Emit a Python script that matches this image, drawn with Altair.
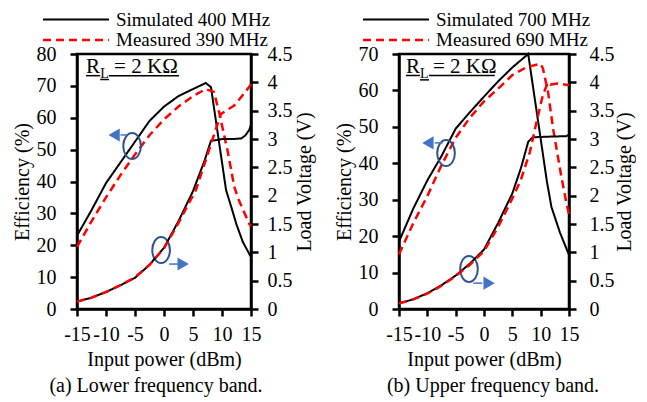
import altair as alt
import pandas as pd

FONT = "Liberation Serif"

# ---------------- data ----------------
X_TICKS = [-15, -10, -5, 0, 5, 10, 15]
V_TICKS = [0, 0.5, 1, 1.5, 2, 2.5, 3, 3.5, 4, 4.5]

# (a) lower band
a_labels = ["Simulated 400 MHz", "Measured 390 MHz"]
a_sim_eff_x = [-15, -12.5, -10, -7.5, -5, -2.5, 0, 2.5, 5, 7.2, 8.1, 9, 10, 10.7, 11.6, 12.5, 13.6, 14.7, 15]
a_sim_eff_y = [23, 31, 39.5, 46, 52.5, 59, 63.5, 66.8, 69, 70.9, 69.6, 58.4, 46, 37.3, 32, 26.5, 21, 17.3, 16.3]
a_meas_eff_x = [-15, -12.5, -10, -7.5, -5, -2.5, 0, 2.5, 5, 7.2, 8.6, 9.5, 11, 12.1, 12.7, 13.8, 14.7, 15]
a_meas_eff_y = [19.5, 27.5, 35, 42, 48.5, 54.5, 59.5, 63.5, 66.8, 69, 68.1, 61.8, 49.3, 38.5, 35, 30.4, 26.7, 26]
a_sim_v_x = [-15, -12.5, -10, -7.5, -5, -2.5, 0, 2.5, 5, 7, 8.1, 9, 10, 12, 13.3, 14, 14.7, 15]
a_sim_v_y = [0.13, 0.2, 0.3, 0.42, 0.55, 0.78, 1.08, 1.55, 2.08, 2.62, 2.97, 2.98, 3.0, 3.0, 3.01, 3.06, 3.16, 3.25]
a_meas_v_x = [-15, -12.5, -10, -7.5, -5, -2.5, 0, 2.5, 5.5, 7.5, 8.6, 9.8, 11, 12.1, 13, 14, 14.7, 15]
a_meas_v_y = [0.13, 0.2, 0.3, 0.42, 0.56, 0.78, 1.07, 1.52, 2.1, 2.72, 3.07, 3.44, 3.52, 3.59, 3.7, 3.83, 3.92, 3.97]

# (b) upper band
b_labels = ["Simulated 700 MHz", "Measured 690 MHz"]
b_sim_eff_x = [-15, -12.5, -10, -7.5, -5, -2.5, 0, 2.5, 5, 7.8, 9, 10, 11.1, 11.9, 13.4, 14.8, 15]
b_sim_eff_y = [18.5, 27.5, 35.3, 42, 49.5, 54, 58.3, 62.5, 66.3, 70, 57.3, 46.7, 35, 28, 21, 15.6, 15]
b_meas_eff_x = [-15, -12.5, -10, -7.5, -5, -2.5, 0, 2.5, 5, 7.5, 10, 10.4, 11.3, 12.2, 13.6, 14.5, 15]
b_meas_eff_y = [15, 23.5, 31, 39.5, 47, 52.5, 57, 60.5, 64.2, 66.4, 67.3, 66, 59.6, 49.4, 36.8, 29.4, 26]
b_sim_v_x = [-15, -12.5, -10, -7.5, -5, -2.5, 0, 2.5, 5, 6.5, 7.8, 8.6, 11, 14.5, 15]
b_sim_v_y = [0.1, 0.17, 0.28, 0.42, 0.59, 0.8, 1.05, 1.52, 2.04, 2.48, 2.95, 3.03, 3.04, 3.05, 3.08]
b_meas_v_x = [-15, -12.5, -10, -7.5, -5, -2.5, 0, 2.5, 5, 6.5, 8.1, 9.2, 10.4, 11.3, 11.7, 13, 15]
b_meas_v_y = [0.1, 0.17, 0.27, 0.41, 0.58, 0.78, 1.02, 1.45, 1.95, 2.28, 2.77, 3.27, 3.78, 4.0, 3.96, 3.98, 3.95]

# annotations (data units of each panel: x in dBm, y in efficiency %)
a_ell_x = [-5.5, -0.5]
a_ell_y = [51.1, 18.5]
a_tri_x = [-8.6, 3.3]
a_tri_y = [54.6, 14.1]
a_tri_shape = ["triangle-left", "triangle-right"]
a_shaft_x1 = [-7.5, 0.9]
a_shaft_x2 = [-6.3, 2.4]
a_shaft_y = [54.6, 14.1]
a_txt = ["R", "L", "= 2 KΩ"]
a_txt_x = [-13.45, -11.0, -8.6]
a_txt_y = [74.0, 72.5, 74.0]
a_ul_x1 = [-13.45, -11.0, -9.5]
a_ul_x2 = [-11.0, -9.5, 2.6]
a_ul_y = [73.2, 72.0, 73.2]

b_ell_x = [-6.7, -2.65]
b_ell_y = [42.8, 11.0]
b_tri_x = [-9.9, 0.9]
b_tri_y = [45.6, 7.1]
b_tri_shape = ["triangle-left", "triangle-right"]
b_shaft_x1 = [-8.7, -1.9]
b_shaft_x2 = [-7.3, -0.3]
b_shaft_y = [45.6, 7.1]
b_txt = ["R", "L", "= 2 KΩ"]
b_txt_x = [-13.76, -11.3, -9.0]
b_txt_y = [64.8, 63.4, 64.8]
b_ul_x1 = [-13.76, -11.3, -9.7]
b_ul_x2 = [-11.3, -9.7, 1.9]
b_ul_y = [64.1, 62.9, 64.1]

TXT_SIZES = [21, 14, 21]
ELLIPSE = "M-0.68,0A0.68,1,0,1,1,0.68,0A0.68,1,0,1,1,-0.68,0Z"


def series_df(xs, ys, name, col):
    return pd.DataFrame({"x": xs, col: ys, "series": name})


def panel(labels, se_x, se_y, me_x, me_y, sv_x, sv_y, mv_x, mv_y,
          eff_max, width, legend_x, ann, caption, cap_dx, right_lab_pad, right_title_pad):
    eff_df = pd.concat([series_df(se_x, se_y, labels[0], "y"),
                        series_df(me_x, me_y, labels[1], "y")])
    v_df = pd.concat([series_df(sv_x, sv_y, labels[0], "v"),
                      series_df(mv_x, mv_y, labels[1], "v")])

    xscale = alt.Scale(domain=[-15, 15], nice=False, zero=False)
    yscale = alt.Scale(domain=[0, eff_max], nice=False)

    leg = alt.Legend(title=None, orient="none", legendX=legend_x, legendY=-44,
                     direction="vertical", symbolType="M-3.88,0L3.88,0", symbolSize=289,
                     symbolStrokeWidth=2.5, labelFont=FONT, labelFontSize=19,
                     labelColor="black", labelOffset=30, rowPadding=0, padding=0,
                     labelLimit=400)
    color = alt.Color("series:N", scale=alt.Scale(domain=labels, range=["black", "#FF0000"]),
                      legend=leg)
    dash = alt.StrokeDash("series:N", scale=alt.Scale(domain=labels, range=[[1, 0], [8, 5]]),
                          legend=leg)
    sw = alt.StrokeWidth("series:N", scale=alt.Scale(domain=labels, range=[2, 2.5]), legend=None)

    x_axis = alt.Axis(values=X_TICKS, labelExpr="'' + datum.value",
                      title="Input power (dBm)", labelOverlap=False,
                      labelFlush=False, labelPadding=8, titlePadding=5)
    y_axis = alt.Axis(values=list(range(0, eff_max + 1, 10)), title="Efficiency (%)",
                      labelPadding=14, titlePadding=4)
    X = alt.X("x:Q", scale=xscale, axis=x_axis)
    Y = alt.Y("y:Q", scale=yscale, axis=y_axis)

    eff_line = alt.Chart(eff_df).mark_line().encode(
        x=X, y=Y, color=color, strokeDash=dash, strokeWidth=sw,
    )

    ell_df = pd.DataFrame({"x": ann["ell_x"], "y": ann["ell_y"]})
    ell = alt.Chart(ell_df).mark_point(shape=ELLIPSE, size=676, filled=False,
                                       color="#2F528F", strokeWidth=2, opacity=1).encode(
        x=X, y=Y)

    tri_df = pd.DataFrame({"x": ann["tri_x"], "y": ann["tri_y"], "shape": ann["tri_shape"]})
    tri = alt.Chart(tri_df).mark_point(filled=True, size=170, color="#4472C4", opacity=1).encode(
        x=X, y=Y, shape=alt.Shape("shape:N", scale=None))

    sh_df = pd.DataFrame({"x": ann["sh_x1"], "x2": ann["sh_x2"], "y": ann["sh_y"]})
    shaft = alt.Chart(sh_df).mark_rule(color="#4472C4", strokeWidth=1.5).encode(
        x=X, x2="x2:Q", y=Y)

    ul_df = pd.DataFrame({"x": ann["ul_x1"], "x2": ann["ul_x2"], "y": ann["ul_y"]})
    ul = alt.Chart(ul_df).mark_rule(color="black", strokeWidth=1.5).encode(
        x=X, x2="x2:Q", y=Y)

    txt_layers = []
    for t, tx, ty, fs in zip(ann["t"], ann["t_x"], ann["t_y"], TXT_SIZES):
        tdf = pd.DataFrame({"x": [tx], "y": [ty], "t": [t]})
        txt_layers.append(
            alt.Chart(tdf).mark_text(align="left", baseline="alphabetic", font=FONT,
                                     fontSize=fs, color="black").encode(
                x=X, y=Y, text="t:N"))

    inner = alt.layer(eff_line, ell, tri, shaft, ul, *txt_layers)

    v_line = alt.Chart(v_df).mark_line().encode(
        x=X,
        y=alt.Y("v:Q", scale=alt.Scale(domain=[0, 4.5], nice=False),
                axis=alt.Axis(orient="right", values=V_TICKS, labelExpr="'' + datum.value",
                              title="Load Voltage (V)", titleAngle=270,
                              labelPadding=right_lab_pad, titlePadding=right_title_pad)),
        color=color, strokeDash=dash, strokeWidth=sw,
    )

    return alt.layer(inner, v_line).resolve_scale(y="independent").properties(
        width=width, height=255,
        title=alt.TitleParams(caption, orient="bottom", anchor="middle", font=FONT,
                              fontSize=20, fontWeight="normal", color="black",
                              offset=7, dx=cap_dx),
    )


ann_a = dict(ell_x=a_ell_x, ell_y=a_ell_y, tri_x=a_tri_x, tri_y=a_tri_y, tri_shape=a_tri_shape,
             sh_x1=a_shaft_x1, sh_x2=a_shaft_x2, sh_y=a_shaft_y,
             t=a_txt, t_x=a_txt_x, t_y=a_txt_y,
             ul_x1=a_ul_x1, ul_x2=a_ul_x2, ul_y=a_ul_y)
ann_b = dict(ell_x=b_ell_x, ell_y=b_ell_y, tri_x=b_tri_x, tri_y=b_tri_y, tri_shape=b_tri_shape,
             sh_x1=b_shaft_x1, sh_x2=b_shaft_x2, sh_y=b_shaft_y,
             t=b_txt, t_x=b_txt_x, t_y=b_txt_y,
             ul_x1=b_ul_x1, ul_x2=b_ul_x2, ul_y=b_ul_y)

pa = panel(a_labels, a_sim_eff_x, a_sim_eff_y, a_meas_eff_x, a_meas_eff_y,
           a_sim_v_x, a_sim_v_y, a_meas_v_x, a_meas_v_y,
           80, 174, -11, ann_a, "(a) Lower frequency band.", -8, 9, 22)
pb = panel(b_labels, b_sim_eff_x, b_sim_eff_y, b_meas_eff_x, b_meas_eff_y,
           b_sim_v_x, b_sim_v_y, b_meas_v_x, b_meas_v_y,
           70, 170, -13, ann_b, "(b) Upper frequency band.", 9, 13, 20)

chart = alt.hconcat(pa, pb, spacing=16).resolve_scale(
    x="independent", y="independent", color="independent", strokeDash="independent",
    strokeWidth="independent",
).properties(
    padding={"left": 2, "top": 0, "right": 0, "bottom": 0}
).configure_view(
    stroke="black", strokeWidth=2.5
).configure_axis(
    domainColor="black", domainWidth=2.5, tickColor="black", tickWidth=2.5, tickSize=7,
    labelFont=FONT, labelFontSize=20, labelColor="black",
    titleFont=FONT, titleFontSize=20, titleFontWeight="normal", titleColor="black",
    grid=False,
)

chart.save("out.html", embed_options={"renderer": "svg", "actions": False})
